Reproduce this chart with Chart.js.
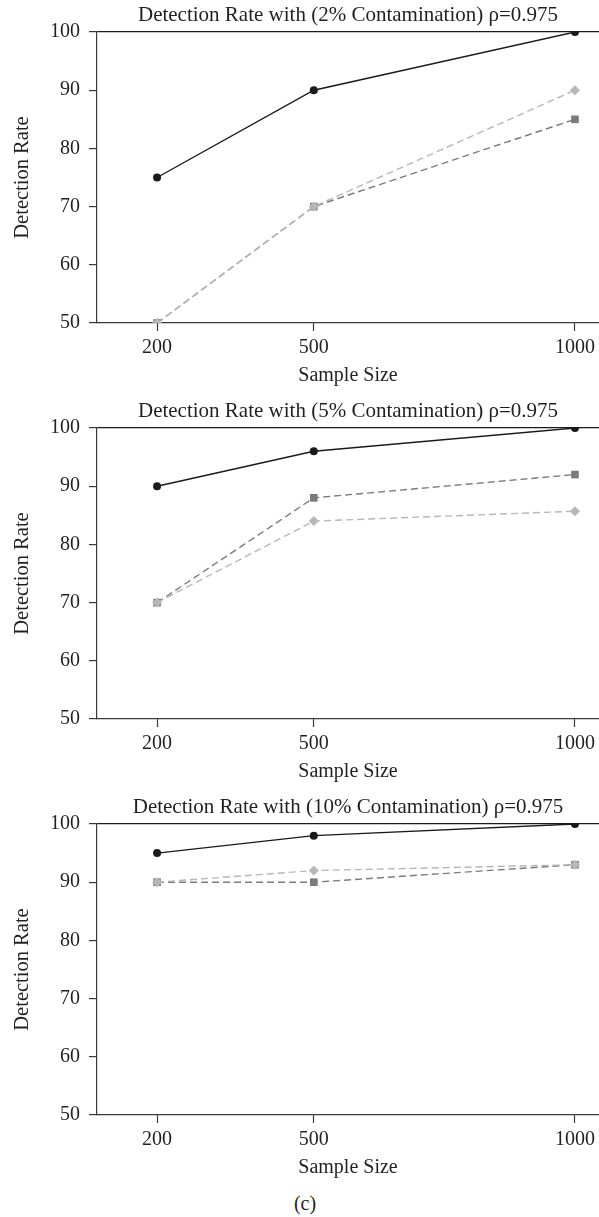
<!DOCTYPE html>
<html>
<head>
<meta charset="utf-8">
<script src="https://cdn.jsdelivr.net/npm/chart.js@4.4.1/dist/chart.umd.min.js"></script>
<style>
  html, body { margin: 0; padding: 0; background: #fff; }
  #page { position: relative; width: 599px; height: 1217px; }
  .panel { position: absolute; left: 0; width: 599px; height: 396px; }
  #cap { position: absolute; left: 0; width: 610px; top: 1192px; text-align: center;
         font-family: "Liberation Serif", serif; font-size: 20px; color: #231f20; }
</style>
</head>
<body>
<div id="page">
  <div class="panel" style="top:0px"><canvas id="c1" width="599" height="396"></canvas></div>
  <div class="panel" style="top:396px"><canvas id="c2" width="599" height="396"></canvas></div>
  <div class="panel" style="top:792px"><canvas id="c3" width="599" height="396"></canvas></div>
  <div id="cap">(c)</div>
</div>
<script>
const sampleSizes = [200, 500, 1000];
const xTicks = [200, 500, 1000];
const yTicks = [50, 60, 70, 80, 90, 100];

const titles = [
  "Detection Rate with (2% Contamination) \u03c1=0.975",
  "Detection Rate with (5% Contamination) \u03c1=0.975",
  "Detection Rate with (10% Contamination) \u03c1=0.975",
];

// circle = solid black, square = dark grey dashed, diamond = light grey dashed
const circle2 = [75, 90, 100];
const square2 = [50, 70, 85];
const diamond2 = [50, 70, 90];

const circle5 = [90, 96, 100];
const square5 = [70, 88, 92];
const diamond5 = [70, 84, 85.7];

const circle10 = [95, 98, 100];
const square10 = [90, 90, 93];
const diamond10 = [90, 92, 93];

const FONT = "'Liberation Serif', 'Times New Roman', serif";
const TEXT = "#231f20";
const AXIS = "#3a3a3a";

function pts(vals){
  return vals.map((v, i) => ({x: sampleSizes[i], y: v}));
}

function makeChart(id, title, circle, square, diamond){
  const ctx = document.getElementById(id).getContext("2d");
  return new Chart(ctx, {
    type: "line",
    data: {
      datasets: [
        {data: pts(circle), borderColor: "#1a1a1a", backgroundColor: "#1a1a1a",
         borderWidth: 1.4, pointStyle: "circle", pointRadius: 4, pointBorderWidth: 0},
        {data: pts(diamond), borderColor: "#b7b7b9", backgroundColor: "#b7b7b9",
         borderWidth: 1.4, borderDash: [7, 4], pointStyle: "rectRot", pointRadius: 5, pointBorderWidth: 0},
        {data: pts(square), borderColor: "#7b7b7e", backgroundColor: "#7b7b7e",
         borderWidth: 1.4, borderDash: [7, 4], pointStyle: "rect", pointRadius: 5.4, pointBorderWidth: 0},
      ]
    },
    options: {
      responsive: false,
      animation: false,
      events: [],
      // plot runs right up to the canvas edge like the original crop
      layout: {padding: 0, autoPadding: false},
      plugins: {
        legend: {display: false},
        tooltip: {enabled: false},
        title: {
          display: true,
          fullSize: false,
          text: title,
          color: TEXT,
          font: {family: FONT, size: 21, weight: "normal", lineHeight: 1.2},
          padding: {top: 2.4, bottom: 4.4},
        },
      },
      scales: {
        x: {
          type: "linear",
          min: 85,
          max: 1046,
          afterBuildTicks: (s) => { s.ticks = xTicks.map(v => ({value: v})); },
          afterFit: (s) => { s.height = 73; s.paddingLeft = 0; s.paddingRight = 0; },
          border: {display: true, color: AXIS, width: 1.2},
          grid: {drawOnChartArea: false, drawTicks: true, tickLength: 8, tickColor: AXIS, tickWidth: 1.2},
          ticks: {color: TEXT, padding: 5, font: {family: FONT, size: 20}, maxRotation: 0,
                  callback: (v) => String(v)},
          title: {display: true, text: "Sample Size", color: TEXT,
                  font: {family: FONT, size: 20}, padding: {top: 0, bottom: 8}},
        },
        y: {
          type: "linear",
          min: 50,
          max: 100,
          afterBuildTicks: (s) => { s.ticks = yTicks.map(v => ({value: v})); },
          afterFit: (s) => { s.width = 97; },
          border: {display: true, color: AXIS, width: 1.2},
          grid: {
            drawTicks: true, tickLength: 8, tickColor: AXIS, tickWidth: 1.2,
            color: (c) => (c.tick && c.tick.value === 100) ? "#1a1a1a" : "rgba(0,0,0,0)",
            lineWidth: 1.2,
          },
          ticks: {color: TEXT, padding: 9, font: {family: FONT, size: 20},
                  callback: (v) => String(v)},
          title: {display: true, text: "Detection Rate", color: TEXT,
                  font: {family: FONT, size: 20.5}, padding: {top: 10, bottom: 0}},
        },
      },
    },
  });
}

makeChart("c1", titles[0], circle2, square2, diamond2);
makeChart("c2", titles[1], circle5, square5, diamond5);
makeChart("c3", titles[2], circle10, square10, diamond10);
</script>
</body>
</html>
